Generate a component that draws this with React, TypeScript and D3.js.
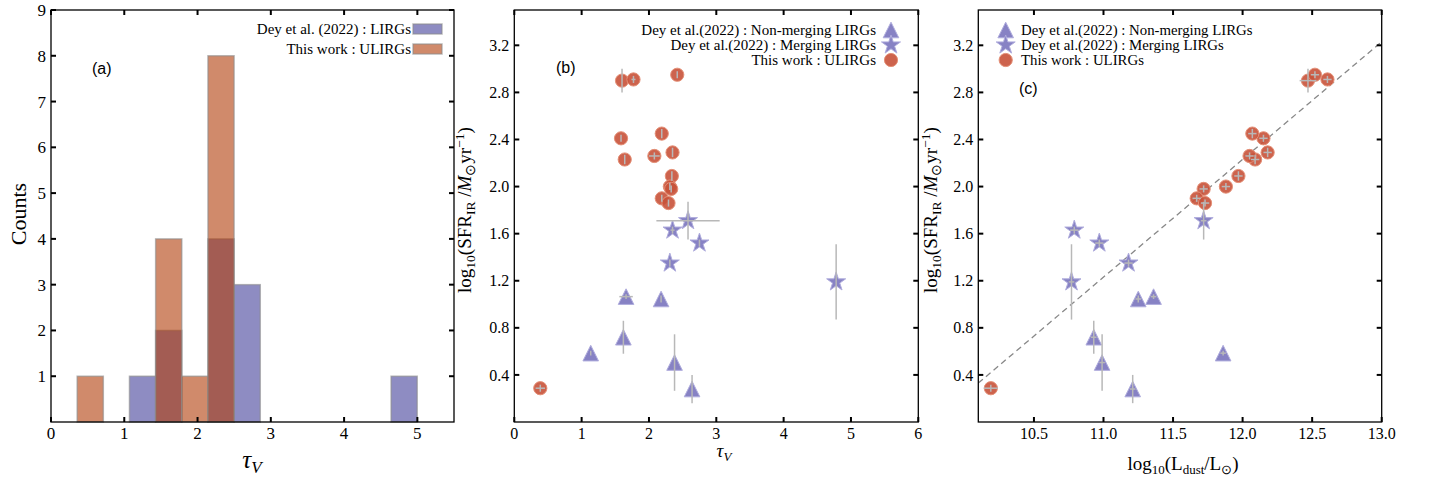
import React from "react";
import * as d3 from "d3";

// ULIRGs (this work): tau_V, log SFR_IR, log L_dust
const ulirgTau = [1.6, 1.77, 2.42, 1.585, 1.64, 2.19, 2.08, 2.35, 2.34, 2.31, 2.33, 2.19, 2.29, 0.386];
const ulirgSfr = [2.9, 2.91, 2.95, 2.41, 2.23, 2.45, 2.26, 2.29, 2.09, 2.0, 1.98, 1.9, 1.86, 0.287];
const ulirgLum = [12.47, 12.61, 12.52, 12.15, 12.09, 12.07, 12.05, 12.18, 11.97, 11.88, 11.72, 11.67, 11.73, 10.19];
const ulirgSfrErr = [0.1, 0.03, 0.03, 0.03, 0.04, 0.04, 0.03, 0.04, 0.04, 0.03, 0.03, 0.03, 0.03, 0.03];
const ulirgTauErr = [0, 0.03, 0, 0, 0, 0, 0.08, 0, 0, 0, 0, 0, 0, 0.07];
const ulirgLumErr = [0.06, 0.03, 0.03, 0.03, 0.03, 0.03, 0.03, 0.03, 0.03, 0.03, 0.03, 0.03, 0.03, 0.05];

// Dey et al. (2022) merging LIRGs
const mergTau = [2.58, 2.35, 2.75, 2.31, 4.78];
const mergSfr = [1.71, 1.63, 1.52, 1.35, 1.19];
const mergLum = [11.72, 10.79, 10.97, 11.18, 10.77];
const mergSfrErr = [0.16, 0.03, 0.03, 0.03, 0.32];
const mergTauErr = [0.47, 0.03, 0, 0, 0];
const mergLumErr = [0.02, 0.03, 0.03, 0.03, 0.02];

// Dey et al. (2022) non-merging LIRGs
const nonTau = [1.66, 2.18, 1.62, 1.135, 2.38, 2.64];
const nonSfr = [1.065, 1.045, 0.72, 0.585, 0.505, 0.28];
const nonLum = [11.36, 11.25, 10.93, 11.86, 10.99, 11.21];
const nonSfrErr = [0.02, 0.03, 0.14, 0.02, 0.24, 0.12];
const nonTauErr = [0.1, 0, 0, 0, 0, 0];
const nonLumErr = [0.02, 0.02, 0.02, 0.02, 0.02, 0.02];

const binEdges = [0.357, 0.714, 1.071, 1.428, 1.785, 2.142, 2.499, 2.856, 3.213, 3.57, 3.927, 4.284, 4.641, 4.998];

const histXTicks = [0, 1, 2, 3, 4, 5];
const countTicks = [1, 2, 3, 4, 5, 6, 7, 8, 9];
const tauTicks = [0, 1, 2, 3, 4, 5, 6];
const sfrTicks = [0.4, 0.8, 1.2, 1.6, 2.0, 2.4, 2.8, 3.2];
const lumTicks = [10.5, 11.0, 11.5, 12.0, 12.5, 13.0];
const kennicuttLogK = Math.log10(1.7e-10);

const SERIF = "'Liberation Serif', 'Times New Roman', serif";
const SANS = "'Liberation Sans', Arial, sans-serif";
const BLUE_HIST = "rgb(67,63,153)";
const ORANGE_HIST = "rgb(177,60,8)";
const CIRC = "#c8523a";
const CIRC_EDGE = "#e48f76";
const PURP = "#7a74be";
const PURP_EDGE = "#b0addd";
const ERR = "#b8b8b8";

const TOP = 10;
const BOTTOM = 422;

function starPath(r: number) {
  const ri = r * 0.382;
  const pts: string[] = [];
  for (let i = 0; i < 10; i++) {
    const a = (Math.PI / 5) * i - Math.PI / 2;
    const rr = i % 2 === 0 ? r : ri;
    pts.push(`${(rr * Math.cos(a)).toFixed(2)},${(rr * Math.sin(a)).toFixed(2)}`);
  }
  return "M" + pts.join("L") + "Z";
}
function triPath(s: number) {
  return `M0,${-s}L${s},${s}L${-s},${s}Z`;
}

const Marker = ({ kind, x, y }: { kind: string; x: number; y: number }) => {
  if (kind === "circle")
    return <circle cx={x} cy={y} r={6.6} fill={CIRC} fillOpacity={0.9} stroke={CIRC_EDGE} strokeWidth={1} />;
  if (kind === "star")
    return <path d={starPath(10)} transform={`translate(${x},${y})`} fill={PURP} fillOpacity={0.9} stroke={PURP_EDGE} strokeWidth={1} />;
  return <path d={triPath(7.8)} transform={`translate(${x},${y})`} fill={PURP} fillOpacity={0.9} stroke={PURP_EDGE} strokeWidth={1} />;
};

const Frame = ({ x, y, xTicks, yTicks, xFmt, yFmt, fs }: any) => {
  const [x0, x1] = x.range();
  const tl = 5;
  return (
    <g>
      <rect x={x0} y={TOP} width={x1 - x0} height={BOTTOM - TOP} fill="none" stroke="#000" strokeWidth={1.3} />
      {xTicks.map((t: number) => (
        <g key={"x" + t}>
          <line x1={x(t)} x2={x(t)} y1={BOTTOM} y2={BOTTOM - tl} stroke="#000" strokeWidth={2} />
          <line x1={x(t)} x2={x(t)} y1={TOP} y2={TOP + tl} stroke="#000" strokeWidth={2} />
          <text x={x(t)} y={BOTTOM + 17} textAnchor="middle" fontFamily={SERIF} fontSize={fs}>{xFmt(t)}</text>
        </g>
      ))}
      {yTicks.map((t: number) => (
        <g key={"y" + t}>
          <line x1={x0} x2={x0 + tl} y1={y(t)} y2={y(t)} stroke="#000" strokeWidth={2} />
          <line x1={x1} x2={x1 - tl} y1={y(t)} y2={y(t)} stroke="#000" strokeWidth={2} />
          <text x={x0 - 5} y={y(t)} dy="0.35em" textAnchor="end" fontFamily={SERIF} fontSize={fs}>{yFmt(t)}</text>
        </g>
      ))}
    </g>
  );
};

const ErrBars = ({ xs, ys, xe, ye, x, y }: any) => (
  <g stroke={ERR} strokeWidth={1.5}>
    {xs.map((v: number, i: number) => (
      <g key={i}>
        {ye[i] > 0 && <line x1={x(v)} x2={x(v)} y1={y(ys[i] - ye[i])} y2={y(ys[i] + ye[i])} />}
        {xe[i] > 0 && <line x1={x(v - xe[i])} x2={x(v + xe[i])} y1={y(ys[i])} y2={y(ys[i])} />}
      </g>
    ))}
  </g>
);

const SfrLabel = ({ cx }: { cx: number }) => (
  <text transform={`translate(${cx},210) rotate(-90)`} textAnchor="middle" fontFamily={SERIF} fontSize={19}>
    log<tspan fontSize={13.5} dy={4}>10</tspan>
    <tspan dy={-4}>(SFR</tspan>
    <tspan fontSize={13.5} dy={4}>IR</tspan>
    <tspan dy={-4}> /</tspan>
    <tspan fontStyle="italic">M</tspan>
    <tspan fontSize={13.5} dy={4}>⊙</tspan>
    <tspan dy={-4}>yr</tspan>
    <tspan fontSize={13.5} dy={-7}>−1</tspan>
    <tspan dy={7}>)</tspan>
  </text>
);

const Scatter = ({ x, y, key3 }: any) => {
  const sets = [
    { kind: "triangle", xs: key3[0], ys: nonSfr, xe: key3[3], ye: nonSfrErr },
    { kind: "star", xs: key3[1], ys: mergSfr, xe: key3[4], ye: mergSfrErr },
    { kind: "circle", xs: key3[2], ys: ulirgSfr, xe: key3[5], ye: ulirgSfrErr },
  ];
  return (
    <g>
      {sets.map((s) => (
        <g key={s.kind}>
          {s.xs.map((v: number, i: number) => (
            <Marker key={i} kind={s.kind} x={x(v)} y={y(s.ys[i])} />
          ))}
        </g>
      ))}
      {sets.map((s) => (
        <ErrBars key={"e" + s.kind} xs={s.xs} ys={s.ys} xe={s.xe} ye={s.ye} x={x} y={y} />
      ))}
    </g>
  );
};

export default function App() {
  // panel (a)
  const xa = d3.scaleLinear().domain([0, 5.5]).range([51, 454]);
  const ya = d3.scaleLinear().domain([0, 9]).range([BOTTOM, TOP]);
  const binner = d3
    .bin()
    .domain([binEdges[0], binEdges[binEdges.length - 1]])
    .thresholds(binEdges.slice(1, -1));
  const blueBins = binner(mergTau.concat(nonTau));
  const orangeBins = binner(ulirgTau);

  // panels (b), (c)
  const ysfr = d3.scaleLinear().domain([0, 3.5]).range([BOTTOM, TOP]);
  const xb = d3.scaleLinear().domain([0, 6]).range([514.3, 918.3]);
  const xc = d3.scaleLinear().domain([10.1, 13.0]).range([978.3, 1381.7]);
  const lineX = xc.domain();

  const bars = (bins: any[], fill: string) =>
    bins
      .filter((b) => b.length > 0)
      .map((b, i) => (
        <rect
          key={i}
          x={xa(b.x0)}
          width={xa(b.x1) - xa(b.x0)}
          y={ya(b.length)}
          height={ya(0) - ya(b.length)}
          fill={fill}
          fillOpacity={0.6}
          stroke="#8c8c8c"
          strokeOpacity={0.6}
          strokeWidth={1.5}
        />
      ));

  const legB = [
    { kind: "triangle", label: "Dey et al.(2022) : Non-merging LIRGs" },
    { kind: "star", label: "Dey et al.(2022) : Merging LIRGs" },
    { kind: "circle", label: "This work : ULIRGs" },
  ];

  return (
    <svg width={1429} height={485} style={{ position: "absolute", left: 0, top: 0, background: "#fff" }}>
      {/* ---- (a) ---- */}
      <g>
        {bars(blueBins, BLUE_HIST)}
        {bars(orangeBins, ORANGE_HIST)}
        <Frame x={xa} y={ya} xTicks={histXTicks} yTicks={countTicks} xFmt={(t: number) => t} yFmt={(t: number) => t} fs={17} />
        <text x={92} y={74} fontFamily={SANS} fontSize={16}>(a)</text>
        <text transform="translate(26,214) rotate(-90)" textAnchor="middle" fontFamily={SERIF} fontSize={22}>Counts</text>
        <text x={252} y={468} textAnchor="middle" fontFamily={SERIF} fontSize={25} fontStyle="italic">
          τ<tspan fontSize={17} dy={5}>V</tspan>
        </text>
        <text x={411} y={34} textAnchor="end" fontFamily={SERIF} fontSize={15}>Dey et al. (2022) : LIRGs</text>
        <rect x={413} y={24} width={29} height={10} fill={BLUE_HIST} fillOpacity={0.6} stroke="#8c8c8c" strokeOpacity={0.6} strokeWidth={1.5} />
        <text x={411} y={54} textAnchor="end" fontFamily={SERIF} fontSize={15}>This work : ULIRGs</text>
        <rect x={413} y={44} width={29} height={10} fill={ORANGE_HIST} fillOpacity={0.6} stroke="#8c8c8c" strokeOpacity={0.6} strokeWidth={1.5} />
      </g>

      {/* ---- (b) ---- */}
      <g>
        <Scatter x={xb} y={ysfr} key3={[nonTau, mergTau, ulirgTau, nonTauErr, mergTauErr, ulirgTauErr]} />
        <Frame x={xb} y={ysfr} xTicks={tauTicks} yTicks={sfrTicks} xFmt={(t: number) => t} yFmt={(t: number) => t.toFixed(1)} fs={16} />
        <text x={556} y={73} fontFamily={SANS} fontSize={16}>(b)</text>
        <SfrLabel cx={471} />
        <text x={724} y={457} textAnchor="middle" fontFamily={SERIF} fontSize={19} fontStyle="italic">
          τ<tspan fontSize={13} dy={4}>V</tspan>
        </text>
        {legB.map((l, i) => (
          <g key={l.kind}>
            <text x={876} y={35 + i * 15} textAnchor="end" fontFamily={SERIF} fontSize={15}>{l.label}</text>
            <Marker kind={l.kind} x={891} y={30 + i * 15} />
          </g>
        ))}
      </g>

      {/* ---- (c) ---- */}
      <g>
        <line
          x1={xc(lineX[0])}
          y1={ysfr(lineX[0] + kennicuttLogK)}
          x2={xc(lineX[1])}
          y2={ysfr(lineX[1] + kennicuttLogK)}
          stroke="#888"
          strokeWidth={1.3}
          strokeDasharray="6,4"
        />
        <Scatter x={xc} y={ysfr} key3={[nonLum, mergLum, ulirgLum, nonLumErr, mergLumErr, ulirgLumErr]} />
        <Frame x={xc} y={ysfr} xTicks={lumTicks} yTicks={sfrTicks} xFmt={(t: number) => t.toFixed(1)} yFmt={(t: number) => t.toFixed(1)} fs={16} />
        <text x={1019} y={94} fontFamily={SANS} fontSize={16}>(c)</text>
        <SfrLabel cx={937} />
        <text x={1183} y={470} textAnchor="middle" fontFamily={SERIF} fontSize={19}>
          log<tspan fontSize={13} dy={4}>10</tspan>
          <tspan dy={-4}>(L</tspan>
          <tspan fontSize={13} dy={4}>dust</tspan>
          <tspan dy={-4}>/L</tspan>
          <tspan fontSize={13} dy={4}>⊙</tspan>
          <tspan dy={-4}>)</tspan>
        </text>
        {legB.map((l, i) => (
          <g key={l.kind}>
            <Marker kind={l.kind} x={1005.7} y={30 + i * 15} />
            <text x={1021} y={35 + i * 15} fontFamily={SERIF} fontSize={14.8}>{l.label}</text>
          </g>
        ))}
      </g>
    </svg>
  );
}
